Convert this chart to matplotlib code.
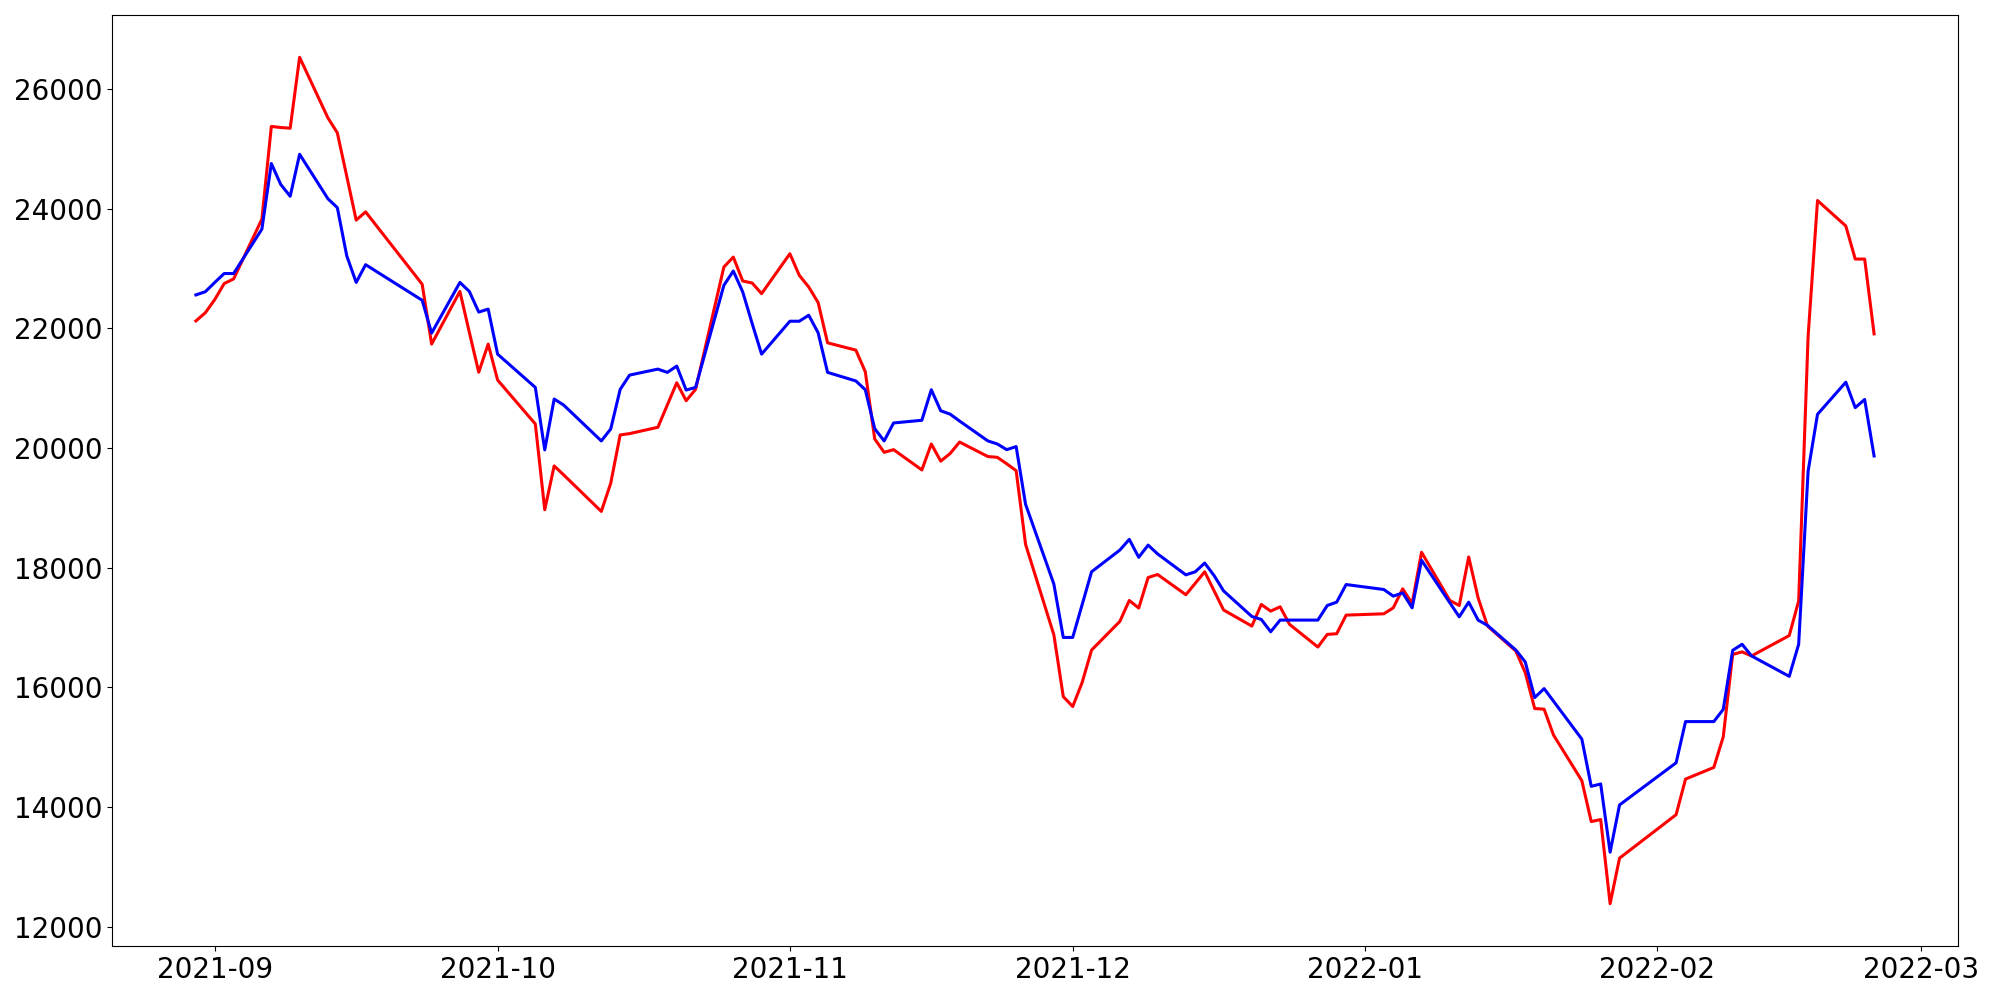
import pandas as pd
import matplotlib
matplotlib.use("Agg")
import matplotlib.pyplot as plt

# 한국 영업일 (휴장일 제외)
holidays = ["2021-09-20", "2021-09-21", "2021-09-22", "2021-10-04", "2021-10-11",
            "2021-12-31", "2022-01-31", "2022-02-01", "2022-02-02"]
dates = pd.bdate_range("2021-08-30", "2022-02-24", freq="C", holidays=holidays)

red_vals = [
    22125, 22262, 22482, 22750, 22827, 23827, 25375, 25357, 25345, 26530,
    25518, 25268, 24542, 23810, 23947, 22738, 21738, 22618, 21935, 21268, 21738,
    21137, 20403, 18970, 19703, 19553, 18942, 19414, 20220, 20242, 20348,
    20720, 21092, 20792, 20981, 23026, 23192, 22792, 22759, 22581,
    23248, 22887, 22692, 22431, 21759, 21637, 21276, 20152, 19929, 19974,
    19635, 20069, 19782, 19910, 20101, 19859, 19846, 19738, 19623, 18392,
    16880, 15847,
    15681, 16083, 16625, 17104, 17454, 17327, 17837, 17888, 17550, 17741,
    17933, 17614, 17295, 17026, 17387, 17276, 17348, 17054, 16676, 16887,
    16898, 17209,
    17231, 17331, 17648, 17404, 18259, 17454, 17370, 18181, 17498, 17026,
    16609, 16248, 15648, 15637, 15204, 14443, 13759, 13793, 12387, 13148,
    13874, 14469, 14664, 15175, 16552, 16595, 16527, 16782, 16867, 17445,
    21866, 24137, 23712, 23159, 23159, 21909,
]

blue_vals = [
    22560, 22613, 22768, 22917, 22917, 23660, 24755, 24405, 24208, 24910,
    24167, 24018, 23213, 22768, 23065, 22470, 21922, 22768, 22618, 22273, 22322,
    21570, 21014, 19970, 20820, 20720, 20120, 20320, 20981, 21220, 21320,
    21265, 21370, 20970, 21014, 22720, 22959, 22609, 22081, 21570,
    22120, 22120, 22220, 21926, 21265, 21122, 20975, 20324, 20120, 20420,
    20465, 20975, 20624, 20567, 20452, 20120, 20069, 19974, 20025, 19061,
    17728, 16836,
    16836, 17384, 17933, 18296, 18475, 18175, 18379, 18232, 17882, 17933,
    18079, 17869, 17614, 17186, 17137, 16931, 17126, 17126, 17126, 17370,
    17426, 17720,
    17637, 17526, 17581, 17331, 18126, 17415, 17181, 17426, 17126, 17037,
    16626, 16426, 15831, 15981, 15770, 15137, 14348, 14387, 13248, 14037,
    14741, 15430, 15430, 15634, 16620, 16722, 16527, 16271, 16186, 16722,
    19613, 20565, 21101, 20676, 20812, 19868,
]

fig, ax = plt.subplots(figsize=(20, 10), dpi=100)
ax.plot(dates, red_vals, color="red", lw=2.2)
ax.plot(dates, blue_vals, color="blue", lw=2.2)
ax.tick_params(labelsize=20)
plt.subplots_adjust(left=0.056, right=0.979, top=0.985, bottom=0.054)
plt.savefig("out.png", dpi=100)
plt.close()
